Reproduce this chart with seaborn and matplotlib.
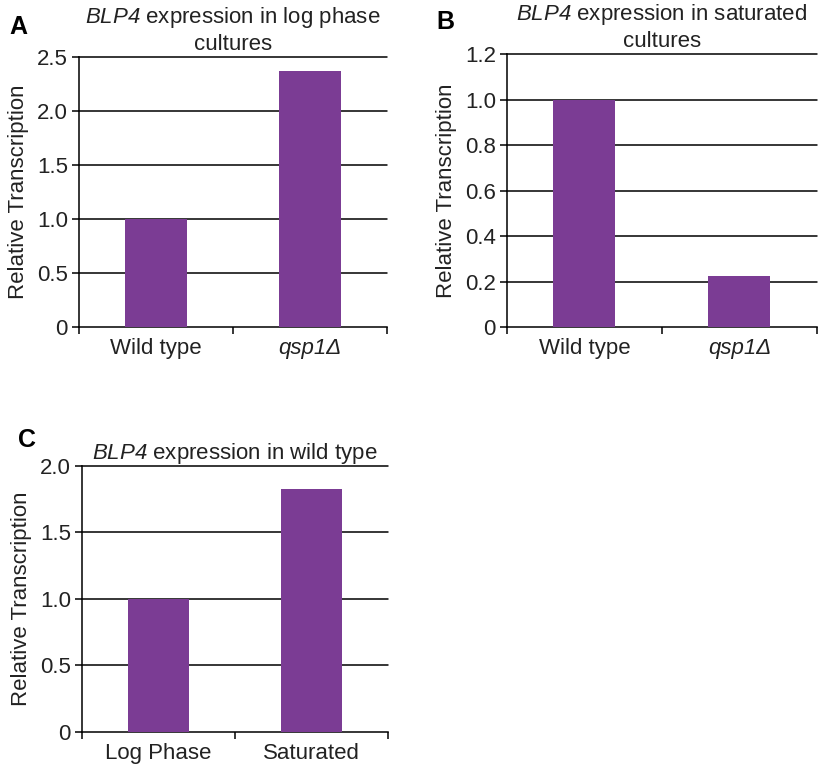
import matplotlib
matplotlib.use("Agg")
import matplotlib.pyplot as plt
import seaborn as sns
from matplotlib.ticker import FuncFormatter

sns.set_style("white")
plt.rcParams['font.family'] = ['Liberation Sans', 'DejaVu Sans']
plt.rcParams['mathtext.fontset'] = 'custom'
plt.rcParams['mathtext.rm'] = 'Liberation Sans:italic'
plt.rcParams['mathtext.it'] = 'Liberation Sans:italic'
plt.rcParams['text.color'] = '#222222'
plt.rcParams['axes.labelcolor'] = '#222222'
plt.rcParams['xtick.color'] = '#222222'
plt.rcParams['ytick.color'] = '#222222'

# Data
cats_a = ["Wild type", "qsp1Δ"]
vals_a = [1.0, 2.37]
cats_b = ["Wild type", "qsp1Δ"]
vals_b = [1.0, 0.224]
cats_c = ["Log Phase", "Saturated"]
vals_c = [1.0, 1.825]

ticks_a = [0, 0.5, 1.0, 1.5, 2.0, 2.5]
ticks_b = [0, 0.2, 0.4, 0.6, 0.8, 1.0, 1.2]
ticks_c = [0, 0.5, 1.0, 1.5, 2.0]

titles = ["$\\mathit{BLP4}$ expression in log phase\ncultures",
          "$\\mathit{BLP4}$ expression in saturated\ncultures",
          "$\\mathit{BLP4}$ expression in wild type"]

BAR = "#7B3C94"
FS = 16

fig = plt.figure(figsize=(8.2, 7.76), dpi=100)
ax_a = fig.add_axes([0.0963, 0.5786, 0.3757, 0.3479])
ax_b = fig.add_axes([0.6183, 0.5786, 0.3780, 0.3518])
ax_c = fig.add_axes([0.1000, 0.0571, 0.3732, 0.3428])

def fmt(v, pos):
    return "0" if abs(v) < 1e-9 else f"{v:.1f}"

for ax, cats, vals, ticks, title, italic_idx in [
    (ax_a, cats_a, vals_a, ticks_a, titles[0], 1),
    (ax_b, cats_b, vals_b, ticks_b, titles[1], 1),
    (ax_c, cats_c, vals_c, ticks_c, titles[2], None),
]:
    sns.barplot(x=cats, y=vals, color=BAR, saturation=1, width=0.4, ax=ax,
                zorder=3, linewidth=0)
    ax.set_xlim(-0.5, 1.5)
    ax.set_ylim(0, ticks[-1])
    ax.set_yticks(ticks)
    ax.yaxis.set_major_formatter(FuncFormatter(fmt))
    for t in ticks[1:]:
        ax.axhline(t, color="black", lw=1.1, zorder=1, clip_on=False)
    for s in ["top", "right"]:
        ax.spines[s].set_visible(False)
    for s in ["left", "bottom"]:
        ax.spines[s].set_color("black")
        ax.spines[s].set_linewidth(1.1)
    ax.tick_params(axis="y", which="major", direction="out", length=5, width=1.1,
                   labelsize=FS, pad=3, left=True, color="black")
    ax.tick_params(axis="x", which="major", length=0, labelsize=FS, pad=8)
    ax.set_xticks([-0.5, 0.5, 1.5], minor=True)
    ax.tick_params(axis="x", which="minor", direction="out", length=5, width=1.1,
                   bottom=True, color="black")
    ax.set_xticks([0, 1])
    ax.set_xticklabels(cats)
    if italic_idx is not None:
        ax.get_xticklabels()[italic_idx].set_style("italic")
    ax.set_ylabel("Relative Transcription", fontsize=FS, labelpad=6)
    ax.set_xlabel("")
    ax.set_title(title, fontsize=FS, pad=5, linespacing=1.25)

fig.text(0.012, 0.965, "A", fontsize=18, fontweight="bold", va="center", color="black")
fig.text(0.532, 0.972, "B", fontsize=18, fontweight="bold", va="center", color="black")
fig.text(0.022, 0.433, "C", fontsize=18, fontweight="bold", va="center", color="black")

fig.savefig("out.png", dpi=100)
